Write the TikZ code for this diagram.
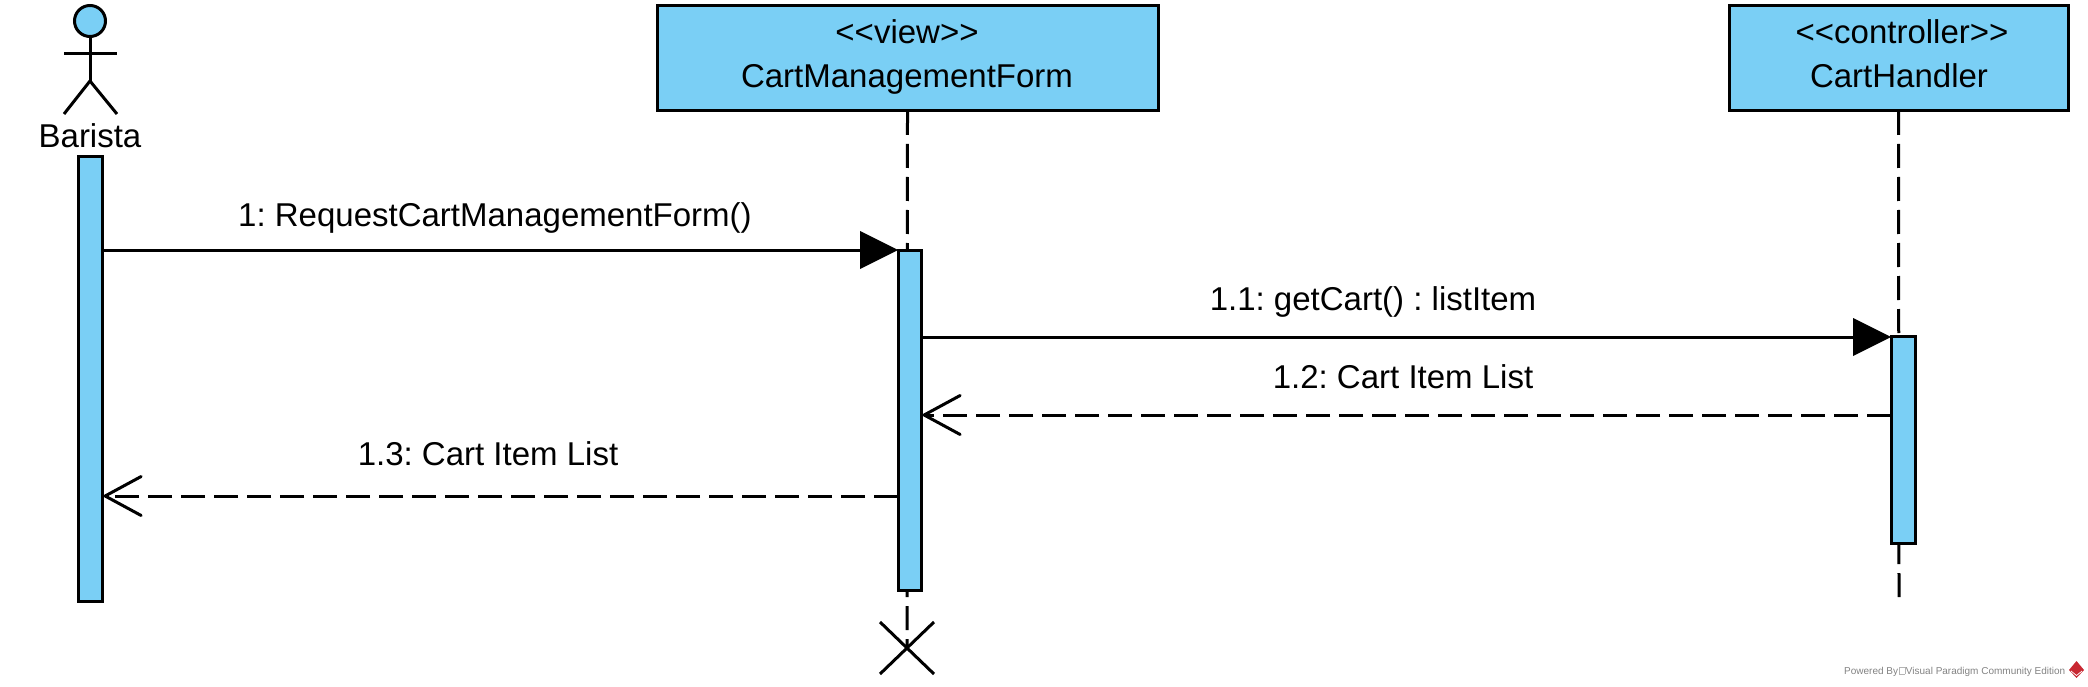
\documentclass[tikz,border=0pt]{standalone}
\usepackage{fontspec}
\setmainfont{Liberation Sans}
\usetikzlibrary{arrows.meta,calc}
\definecolor{fillblue}{RGB}{122,207,245}
\definecolor{wmgrey}{RGB}{130,130,130}
\definecolor{wmred}{RGB}{200,40,50}
\tikzset{
  x=1pt,y=-1pt,
  ln/.style={line width=3pt,black},
  bar/.style={draw,ln,fill=fillblue,minimum width=#1,inner sep=0pt,outer sep=0pt,anchor=north west},
  head/.style={draw,ln,fill=fillblue,inner sep=0pt,outer sep=0pt,anchor=north west},
  txt/.style={font=\fontsize{33}{33}\selectfont\frenchspacing,inner sep=0pt,anchor=base},
  life/.style={ln,dash pattern=on 24pt off 9pt},
  call/.style={ln,-{Triangle[length=38pt,width=38pt,line width=0pt,fill=black]}},
  reply/.style={ln,dash pattern=on 24pt off 9pt,-{Straight Barb[length=36pt,width=39pt,line width=3pt,line cap=round,line join=miter]}},
}
\begin{document}
\begin{tikzpicture}
\useasboundingbox (0,0) rectangle (2088,687);
% y levels
\coordinate (y1) at (0,250);
\coordinate (y2) at (0,337);
\coordinate (y3) at (0,415);
\coordinate (y4) at (0,496);
% lifelines
\coordinate (xview) at (907,648);
\coordinate (xhand) at (1899,597);
\node[head,minimum width=501pt,minimum height=105pt] (view) at (657,6) {};
\node[head,minimum width=339pt,minimum height=105pt] (hand) at (1729,6) {};
\draw[life] (view.south) -- (xview);
\draw[life] (hand.south) -- (xhand);
% actor
\node[circle,draw,ln,fill=fillblue,minimum size=31pt,inner sep=0pt,outer sep=0pt] (ahead) at (90,21) {};
\coordinate (ahip) at (90,81);
\coordinate (aarmL) at (64,54);
\coordinate (aarmR) at (117,54);
\coordinate (alegL) at (64,114);
\coordinate (alegR) at (117,114);
\draw[ln] (ahead.south) -- (ahip);
\draw[ln] (aarmL) -- (aarmR);
\draw[ln] (alegL) -- (ahip) -- (alegR);
\node[txt] (tbar) at (90,148) {Barista};
% activations
\node[bar=24pt,minimum height=444pt] (a1) at (78,157) {};
\node[bar=23pt,minimum height=340pt] (a2) at (898,250) {};
\node[bar=24pt,minimum height=207pt] (a3) at (1891,336) {};
% messages
\draw[call] (a1.east |- y1) -- (a2.west |- y1);
\draw[call] (a2.east |- y2) -- (a3.west |- y2);
\draw[reply] (a3.west |- y3) -- (a2.east |- y3);
\draw[reply] (a2.west |- y4) -- (a1.east |- y4);
% destroy
\coordinate (x1) at ($(xview)+(-27,-26)$);
\coordinate (x2) at ($(xview)+(27,26)$);
\coordinate (x3) at ($(xview)+(27,-26)$);
\coordinate (x4) at ($(xview)+(-27,26)$);
\draw[ln] (x1) -- (x2);
\draw[ln] (x3) -- (x4);
% texts
\node[txt] (v1) at (907,43.5) {<{}<view>{}>};
\node[txt] (v2) at (907,88) {CartManagementForm};
\node[txt] (h1) at (1902,43.5) {<{}<controller>{}>};
\node[txt] (h2) at (1899,88) {CartHandler};
\node[txt] (m1) at (495,227) {1: RequestCartManagementForm()};
\node[txt] (m2) at (1373,310) {1.1: getCart() : listItem};
\node[txt] (m3) at (1403,388) {1.2: Cart Item List};
\node[txt] (m4) at (488,465) {1.3: Cart Item List};
% watermark
\node[font=\fontsize{10}{10}\selectfont\frenchspacing,text=wmgrey,inner sep=0pt,anchor=base west] (wm) at (1844,674) {Powered By\kern1pt{\setlength\fboxrule{.4pt}\setlength\fboxsep{0pt}\color{wmgrey!60}\fbox{\rule{5pt}{0pt}\rule{0pt}{6.5pt}}}\kern1pt Visual Paradigm Community Edition};
\fill[wmred] (2076.5,661) -- (2084,670) -- (2076.5,678) -- (2069,670) -- cycle;
\draw[white,line width=.7pt] (2071,671) -- (2076.5,675.5) -- (2082,671);
\end{tikzpicture}
\end{document}
